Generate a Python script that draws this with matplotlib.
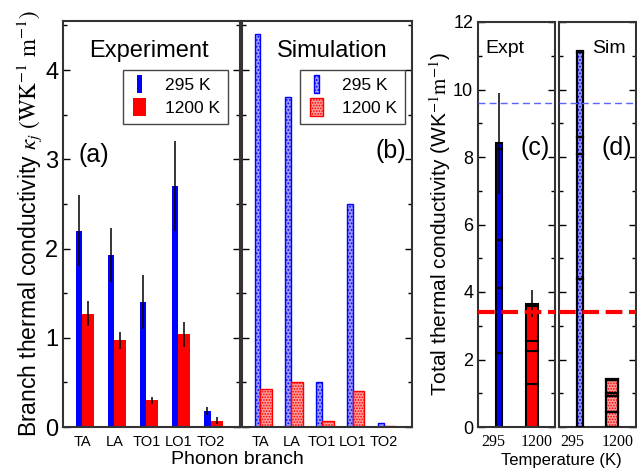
import matplotlib
matplotlib.use("Agg")
import matplotlib.pyplot as plt
import numpy as np
from matplotlib.patches import Rectangle
from matplotlib.legend_handler import HandlerPatch
from matplotlib.ticker import MultipleLocator

plt.rcParams['font.family'] = ['Liberation Sans', 'DejaVu Sans']
plt.rcParams['mathtext.fontset'] = 'stix'
plt.rcParams['hatch.linewidth'] = 0.8

# ---------------- data ----------------
branches = ["TA", "LA", "TO1", "LO1", "TO2"]
expt_295 = [2.2, 1.93, 1.4, 2.7, 0.18]
expt_295_err = [0.4, 0.3, 0.3, 0.5, 0.04]
expt_1200 = [1.27, 0.97, 0.3, 1.04, 0.07]
expt_1200_err = [0.14, 0.1, 0.04, 0.14, 0.04]
sim_295 = [4.4, 3.7, 0.5, 2.5, 0.04]
sim_1200 = [0.43, 0.5, 0.07, 0.4, 0.01]
temps = ["295", "1200"]
total_err = [1.5, 0.4]
sim_ref_295 = 9.6
sim_ref_1200 = 3.4

BLUE = '#0000ff'
RED = '#ff0000'
SIMB = '#9a9aff'
SIMR = '#ff9a9a'
HB = '.....'
HR = '......'
W, H = 637, 470
fig = plt.figure(figsize=(W / 100, H / 100), dpi=100)


def fx(px):
    return px / W


def fy(py):
    return 1 - py / H


def add_ax(l, r, t, b):
    return fig.add_axes([fx(l), fy(b), fx(r) - fx(l), fy(t) - fy(b)])


axa = add_ax(63, 240, 21, 427)
axb = add_ax(242, 412, 21, 427)
axc = add_ax(478, 555, 22, 427)
axd = add_ax(559, 636, 22, 427)

x = np.arange(len(branches))
wb, wr = 0.19, 0.375

# (a) experiment
axa.bar(x - wb / 2, expt_295, wb, color=BLUE, edgecolor='none', zorder=2)
axa.bar(x + wr / 2, expt_1200, wr, color=RED, edgecolor='none', zorder=2)
axa.errorbar(x - wb / 2, expt_295, yerr=expt_295_err, fmt='none', ecolor='black',
             elinewidth=1.1, capsize=0, zorder=3)
axa.errorbar(x + wr / 2, expt_1200, yerr=expt_1200_err, fmt='none', ecolor='black',
             elinewidth=1.1, capsize=0, zorder=3)

# (b) simulation
axb.bar(x - wb / 2, sim_295, wb, color=SIMB, edgecolor=BLUE, linewidth=1.0,
        hatch=HB, zorder=2)
axb.bar(x + wr / 2, sim_1200, wr, color=SIMR, edgecolor=RED, linewidth=1.0,
        hatch=HR, zorder=2)

for ax in (axa, axb):
    ax.set_xlim(-0.6, 4.92)
    ax.set_ylim(0, 4.55)
    ax.set_xticks(x)
    ax.set_xticklabels(branches, fontsize=10.5)
    ax.tick_params(axis='x', length=0, pad=6)
    ax.yaxis.set_major_locator(MultipleLocator(1))
    ax.yaxis.set_minor_locator(MultipleLocator(0.5))
    ax.tick_params(axis='y', which='both', direction='in', left=True, right=True,
                   labelsize=17, width=1)
    ax.tick_params(axis='y', which='major', length=5)
    ax.tick_params(axis='y', which='minor', length=3)
    for s in ax.spines.values():
        s.set_linewidth(1.5)
        s.set_color('#333333')
axb.tick_params(axis='y', labelleft=False)


def narrow_patch(legend, orig_handle, xdescent, ydescent, width, height, fontsize):
    return Rectangle((-xdescent + width * 0.38, -ydescent - 2), width * 0.26, height + 4)


def square_patch(legend, orig_handle, xdescent, ydescent, width, height, fontsize):
    return Rectangle((-xdescent + width * 0.12, -ydescent - 2), width * 0.76, height + 4)


ha1 = Rectangle((0, 0), 1, 1, facecolor=BLUE, edgecolor='none')
ha2 = Rectangle((0, 0), 1, 1, facecolor=RED, edgecolor='none')
hb1 = Rectangle((0, 0), 1, 1, facecolor=SIMB, edgecolor=BLUE, hatch=HB)
hb2 = Rectangle((0, 0), 1, 1, facecolor=SIMR, edgecolor=RED, hatch=HR)
hmap = {ha1: HandlerPatch(patch_func=narrow_patch), ha2: HandlerPatch(patch_func=square_patch),
        hb1: HandlerPatch(patch_func=narrow_patch), hb2: HandlerPatch(patch_func=square_patch)}
for ax, hs, xr in ((axa, (ha1, ha2), 0.932), (axb, (hb1, hb2), 0.959)):
    leg = ax.legend(hs, ['295 K', '1200 K'], handler_map=hmap, fontsize=12.5,
                    loc='upper right', bbox_to_anchor=(xr, 0.879), borderaxespad=0,
                    fancybox=False, framealpha=1, edgecolor='#444444', handlelength=1.0,
                    handletextpad=1.0, borderpad=0.45, labelspacing=0.45)
    leg.get_frame().set_linewidth(1.0)

axa.text(0.485, 0.925, 'Experiment', transform=axa.transAxes, fontsize=17,
         ha='center', va='center')
axa.text(0.09, 0.67, '(a)', transform=axa.transAxes, fontsize=18, ha='left', va='center')
axb.text(0.53, 0.925, 'Simulation', transform=axb.transAxes, fontsize=17,
         ha='center', va='center')
axb.text(0.965, 0.68, '(b)', transform=axb.transAxes, fontsize=18, ha='right', va='center')

axa.set_ylabel(r'Branch thermal conductivity $\kappa_j\ (\mathrm{WK^{-1}\ m^{-1}})$',
               fontsize=16.5, labelpad=1)
fig.text(fx(237), fy(460), 'Phonon branch', fontsize=14, ha='center', va='center')

# (c), (d) totals
xt = np.arange(len(temps))
wt = [0.18, 0.36]


def stacked(ax, vals_lists, hatched):
    for i, vals in enumerate(vals_lists):
        bottom = 0.0
        for v in vals:
            if hatched:
                fc = SIMB if i == 0 else SIMR
                hc = BLUE if i == 0 else RED
                ax.bar(xt[i], v, wt[i], bottom=bottom, color=fc, edgecolor=hc,
                       linewidth=0, hatch=HB if i == 0 else HR, zorder=2)
                ax.bar(xt[i], v, wt[i], bottom=bottom, color='none', edgecolor='black',
                       linewidth=1.6, zorder=3)
            else:
                fc = BLUE if i == 0 else RED
                ax.bar(xt[i], v, wt[i], bottom=bottom, color=fc, edgecolor='black',
                       linewidth=1.5, zorder=2)
            bottom += v


stacked(axc, [expt_295, expt_1200], False)
stacked(axd, [sim_295, sim_1200], True)
totals = [sum(expt_295), sum(expt_1200)]
axc.errorbar(xt, totals, yerr=total_err, fmt='none', ecolor='black', elinewidth=1.1,
             capsize=0, zorder=4)

for ax, xl, tpos in ((axc, (-0.64, 1.7), (-0.18, 1.15)), (axd, (-0.66, 1.75), (-0.25, 1.19))):
    ax.set_xlim(*xl)
    ax.set_ylim(0, 12)
    ax.axhline(sim_ref_295, color='#5a64ff', lw=1.0, dashes=(5, 3), zorder=5)
    ax.axhline(sim_ref_1200, color=RED, lw=3.0, dashes=(4, 1.6), zorder=5)
    ax.set_xticks(tpos)
    ax.set_xticklabels(temps, fontsize=11.5, family='Liberation Serif')
    ax.tick_params(axis='x', length=0, pad=5)
    ax.yaxis.set_major_locator(MultipleLocator(2))
    ax.yaxis.set_minor_locator(MultipleLocator(1))
    ax.tick_params(axis='y', which='both', direction='in', left=True, right=True,
                   labelsize=13, width=1)
    ax.tick_params(axis='y', which='major', length=5)
    ax.tick_params(axis='y', which='minor', length=3)
    for s in ax.spines.values():
        s.set_linewidth(1.5)
        s.set_color('#333333')
axd.tick_params(axis='y', labelleft=False)

axc.text(0.09, 0.935, 'Expt', transform=axc.transAxes, fontsize=14, ha='left', va='center')
axc.text(0.935, 0.69, '(c)', transform=axc.transAxes, fontsize=18, ha='right', va='center')
axd.text(0.43, 0.935, 'Sim', transform=axd.transAxes, fontsize=14, ha='left', va='center')
axd.text(0.95, 0.69, '(d)', transform=axd.transAxes, fontsize=18, ha='right', va='center')

axc.set_ylabel(r'Total thermal conductivity (WK$^{-1}$$\mathrm{m}^{-1}$)', fontsize=15,
               labelpad=0)
fig.text(fx(561), fy(460), 'Temperature (K)', fontsize=12, ha='center', va='center')

fig.savefig('out.png', dpi=100)
